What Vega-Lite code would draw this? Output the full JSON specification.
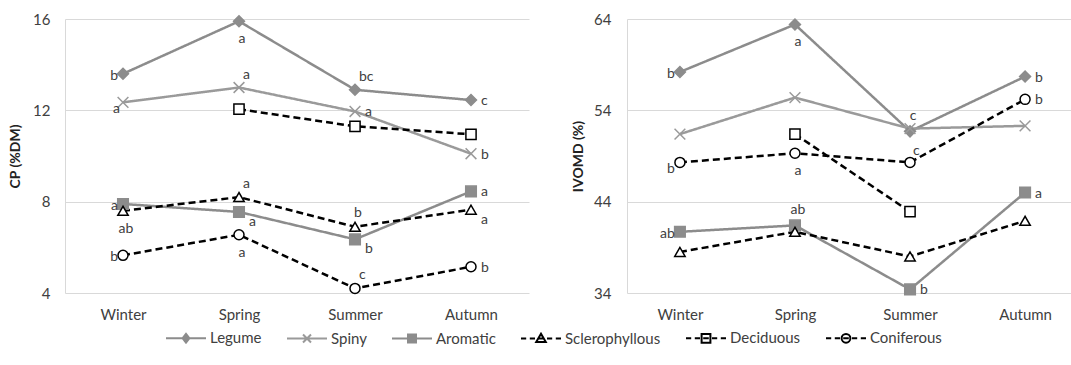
{
  "$schema": "https://vega.github.io/schema/vega-lite/v6.json",
  "background": "white",
  "padding": {"left": 8, "top": 12, "right": 0, "bottom": 5},
  "config": {
    "font": "Lato",
    "view": {"stroke": null},
    "axis": {"labelFont": "Lato", "labelFontSize": 15, "labelColor": "#404040", "titleFont": "Lato", "titleColor": "#222222", "titleFontSize": 14, "titleFontWeight": "bold", "gridColor": "#d9d9d9", "domainColor": "#d9d9d9", "ticks": false},
    "text": {"font": "Lato", "fontSize": 14, "color": "#404040"}
  },
  "data": {"values": [
    {"panel": "CP", "group": "Legume", "season": "Winter", "value": 13.6, "label": "b", "pos": "l"},
    {"panel": "CP", "group": "Legume", "season": "Spring", "value": 15.9, "label": "a", "pos": "b"},
    {"panel": "CP", "group": "Legume", "season": "Summer", "value": 12.9, "label": "bc", "pos": "tr"},
    {"panel": "CP", "group": "Legume", "season": "Autumn", "value": 12.45, "label": "c", "pos": "r"},
    {"panel": "CP", "group": "Spiny", "season": "Winter", "value": 12.35, "label": "a", "pos": "bl"},
    {"panel": "CP", "group": "Spiny", "season": "Spring", "value": 13.0, "label": "a", "pos": "tr"},
    {"panel": "CP", "group": "Spiny", "season": "Summer", "value": 11.95, "label": "a", "pos": "r"},
    {"panel": "CP", "group": "Spiny", "season": "Autumn", "value": 10.1, "label": "b", "pos": "r"},
    {"panel": "CP", "group": "Aromatic", "season": "Winter", "value": 7.9, "label": "a", "pos": "l"},
    {"panel": "CP", "group": "Aromatic", "season": "Spring", "value": 7.55, "label": "a", "pos": "br"},
    {"panel": "CP", "group": "Aromatic", "season": "Summer", "value": 6.35, "label": "b", "pos": "br"},
    {"panel": "CP", "group": "Aromatic", "season": "Autumn", "value": 8.45, "label": "a", "pos": "r"},
    {"panel": "CP", "group": "Sclerophyllous", "season": "Winter", "value": 7.6, "label": "ab", "pos": "b"},
    {"panel": "CP", "group": "Sclerophyllous", "season": "Spring", "value": 8.2, "label": "a", "pos": "tr"},
    {"panel": "CP", "group": "Sclerophyllous", "season": "Summer", "value": 6.9, "label": "b", "pos": "t"},
    {"panel": "CP", "group": "Sclerophyllous", "season": "Autumn", "value": 7.65, "label": "a", "pos": "br"},
    {"panel": "CP", "group": "Deciduous", "season": "Spring", "value": 12.05, "label": "", "pos": ""},
    {"panel": "CP", "group": "Deciduous", "season": "Summer", "value": 11.3, "label": "", "pos": ""},
    {"panel": "CP", "group": "Deciduous", "season": "Autumn", "value": 10.95, "label": "", "pos": ""},
    {"panel": "CP", "group": "Coniferous", "season": "Winter", "value": 5.65, "label": "b", "pos": "l"},
    {"panel": "CP", "group": "Coniferous", "season": "Spring", "value": 6.55, "label": "a", "pos": "b"},
    {"panel": "CP", "group": "Coniferous", "season": "Summer", "value": 4.2, "label": "c", "pos": "tr"},
    {"panel": "CP", "group": "Coniferous", "season": "Autumn", "value": 5.15, "label": "b", "pos": "r"},
    {"panel": "IVOMD", "group": "Legume", "season": "Winter", "value": 58.2, "label": "b", "pos": "l"},
    {"panel": "IVOMD", "group": "Legume", "season": "Spring", "value": 63.4, "label": "a", "pos": "b"},
    {"panel": "IVOMD", "group": "Legume", "season": "Summer", "value": 51.7, "label": "c", "pos": "t"},
    {"panel": "IVOMD", "group": "Legume", "season": "Autumn", "value": 57.7, "label": "b", "pos": "r"},
    {"panel": "IVOMD", "group": "Spiny", "season": "Winter", "value": 51.4, "label": "", "pos": ""},
    {"panel": "IVOMD", "group": "Spiny", "season": "Spring", "value": 55.4, "label": "", "pos": ""},
    {"panel": "IVOMD", "group": "Spiny", "season": "Summer", "value": 52.0, "label": "", "pos": ""},
    {"panel": "IVOMD", "group": "Spiny", "season": "Autumn", "value": 52.3, "label": "", "pos": ""},
    {"panel": "IVOMD", "group": "Aromatic", "season": "Winter", "value": 40.7, "label": "ab", "pos": "l"},
    {"panel": "IVOMD", "group": "Aromatic", "season": "Spring", "value": 41.4, "label": "ab", "pos": "t"},
    {"panel": "IVOMD", "group": "Aromatic", "season": "Summer", "value": 34.4, "label": "b", "pos": "r"},
    {"panel": "IVOMD", "group": "Aromatic", "season": "Autumn", "value": 45.0, "label": "a", "pos": "r"},
    {"panel": "IVOMD", "group": "Sclerophyllous", "season": "Winter", "value": 38.5, "label": "", "pos": ""},
    {"panel": "IVOMD", "group": "Sclerophyllous", "season": "Spring", "value": 40.7, "label": "", "pos": ""},
    {"panel": "IVOMD", "group": "Sclerophyllous", "season": "Summer", "value": 38.0, "label": "", "pos": ""},
    {"panel": "IVOMD", "group": "Sclerophyllous", "season": "Autumn", "value": 41.9, "label": "", "pos": ""},
    {"panel": "IVOMD", "group": "Deciduous", "season": "Spring", "value": 51.4, "label": "", "pos": ""},
    {"panel": "IVOMD", "group": "Deciduous", "season": "Summer", "value": 42.9, "label": "", "pos": ""},
    {"panel": "IVOMD", "group": "Coniferous", "season": "Winter", "value": 48.3, "label": "b", "pos": "bl"},
    {"panel": "IVOMD", "group": "Coniferous", "season": "Spring", "value": 49.3, "label": "a", "pos": "b"},
    {"panel": "IVOMD", "group": "Coniferous", "season": "Summer", "value": 48.3, "label": "c", "pos": "tr"},
    {"panel": "IVOMD", "group": "Coniferous", "season": "Autumn", "value": 55.2, "label": "b", "pos": "r"}
  ]},
  "spacing": 42,
  "hconcat": [
    {
      "width": 464,
      "height": 274,
      "transform": [{"filter": "datum.panel === 'CP'"}],
      "encoding": {
        "x": {"field": "season", "type": "ordinal", "sort": ["Winter", "Spring", "Summer", "Autumn"], "scale": {"type": "point", "padding": 0.5}, "axis": {"title": null, "labelAngle": 0, "domain": false, "labelPadding": 14}},
        "y": {"field": "value", "type": "quantitative", "scale": {"domain": [4, 16], "nice": false, "zero": false}, "axis": {"values": [4, 8, 12, 16], "title": "CP (%DM)", "labelPadding": 15, "titlePadding": 10}}
      },
      "layer": [
        {
          "mark": {"type": "line", "strokeWidth": 2.5},
          "encoding": {
            "color": {"field": "group", "type": "nominal",
              "scale": {"domain": ["Legume", "Spiny", "Aromatic", "Sclerophyllous", "Deciduous", "Coniferous"], "range": ["#8c8c8c", "#9a9a9a", "#8c8c8c", "#000000", "#000000", "#000000"]},
              "legend": {
                "title": null, "orient": "none", "direction": "horizontal", "legendX": 100, "legendY": 298,
                "symbolSize": 1600, "symbolStrokeWidth": 2, "labelFont": "Lato", "labelFontSize": 15, "labelColor": "#404040", "labelOffset": 3, "columnPadding": 21,
                "encode": {"symbols": {"update": {
                  "shape": {"signal": "datum.value === 'Legume' ? 'M-1,0L1,0M0,-0.22L0.17,0L0,0.22L-0.17,0Z' : datum.value === 'Spiny' ? 'M-1,0L1,0M-0.2,-0.2L0.2,0.2M-0.2,0.2L0.2,-0.2' : datum.value === 'Aromatic' ? 'M-1,0L1,0M-0.2,-0.2L0.2,-0.2L0.2,0.2L-0.2,0.2Z' : datum.value === 'Sclerophyllous' ? 'M-1,0L-0.74,0M-0.56,0L-0.3,0M-0.14,0L0.14,0M0.3,0L0.56,0M0.74,0L1,0M0,-0.24L0.24,0.18L-0.24,0.18Z' : datum.value === 'Deciduous' ? 'M-1,0L-0.74,0M-0.56,0L-0.3,0M-0.14,0L0.14,0M0.3,0L0.56,0M0.74,0L1,0M-0.22,-0.22L0.22,-0.22L0.22,0.22L-0.22,0.22Z' : 'M-1,0L-0.74,0M-0.56,0L-0.3,0M-0.14,0L0.14,0M0.3,0L0.56,0M0.74,0L1,0M-0.22,0A0.22,0.22 0 1,0 0.22,0A0.22,0.22 0 1,0 -0.22,0Z'"},
                  "fill": {"signal": "datum.value === 'Legume' || datum.value === 'Aromatic' ? '#8c8c8c' : datum.value === 'Spiny' ? 'transparent' : '#ffffff'"},
                  "stroke": {"signal": "datum.value === 'Legume' || datum.value === 'Spiny' || datum.value === 'Aromatic' ? '#8c8c8c' : '#000000'"},
                  "strokeWidth": {"value": 2},
                  "opacity": {"value": 1}
                }}}
              }},
            "strokeDash": {"field": "group", "type": "nominal", "scale": {"domain": ["Coniferous", "Deciduous", "Sclerophyllous", "Aromatic", "Spiny", "Legume"], "range": [[7, 4], [7, 4], [7, 4], [1, 0], [1, 0], [1, 0]]}, "legend": null}
          }
        },
        {
          "mark": {"type": "point", "filled": false, "strokeWidth": 1.5, "opacity": 1},
          "encoding": {
            "shape": {"field": "group", "type": "nominal", "scale": {"domain": ["Coniferous", "Deciduous", "Sclerophyllous", "Aromatic", "Spiny", "Legume"], "range": ["circle", "square", "triangle-up", "square", "M-1,-1L1,1M-1,1L1,-1", "diamond"]}, "legend": null},
            "size": {"field": "group", "type": "nominal", "scale": {"domain": ["Coniferous", "Deciduous", "Sclerophyllous", "Aromatic", "Spiny", "Legume"], "range": [100, 120, 90, 80, 70, 55]}, "legend": null},
            "fill": {"field": "group", "type": "nominal", "scale": {"domain": ["Coniferous", "Deciduous", "Sclerophyllous", "Aromatic", "Spiny", "Legume"], "range": ["#ffffff", "#ffffff", "#ffffff", "#8c8c8c", "transparent", "#8c8c8c"]}, "legend": null},
            "stroke": {"field": "group", "type": "nominal", "scale": {"domain": ["Coniferous", "Deciduous", "Sclerophyllous", "Aromatic", "Spiny", "Legume"], "range": ["#000000", "#000000", "#000000", "#8c8c8c", "#9a9a9a", "#8c8c8c"]}, "legend": null}
          }
        },
        {"transform": [{"filter": "datum.pos === 'l'"}], "mark": {"type": "text", "align": "right", "baseline": "middle", "dx": -5, "dy": 2}, "encoding": {"text": {"field": "label"}}},
        {"transform": [{"filter": "datum.pos === 'r'"}], "mark": {"type": "text", "align": "left", "baseline": "middle", "dx": 10, "dy": 1}, "encoding": {"text": {"field": "label"}}},
        {"transform": [{"filter": "datum.pos === 't'"}], "mark": {"type": "text", "align": "center", "baseline": "middle", "dx": 3, "dy": -14}, "encoding": {"text": {"field": "label"}}},
        {"transform": [{"filter": "datum.pos === 'b'"}], "mark": {"type": "text", "align": "center", "baseline": "middle", "dx": 3, "dy": 18}, "encoding": {"text": {"field": "label"}}},
        {"transform": [{"filter": "datum.pos === 'tr'"}], "mark": {"type": "text", "align": "left", "baseline": "middle", "dx": 4, "dy": -13}, "encoding": {"text": {"field": "label"}}},
        {"transform": [{"filter": "datum.pos === 'br'"}], "mark": {"type": "text", "align": "left", "baseline": "middle", "dx": 10, "dy": 10}, "encoding": {"text": {"field": "label"}}},
        {"transform": [{"filter": "datum.pos === 'bl'"}], "mark": {"type": "text", "align": "right", "baseline": "middle", "dx": -3, "dy": 7}, "encoding": {"text": {"field": "label"}}}
      ]
    },
    {
      "width": 451,
      "height": 274,
      "transform": [{"filter": "datum.panel === 'IVOMD'"}],
      "encoding": {
        "x": {"field": "season", "type": "ordinal", "sort": ["Winter", "Spring", "Summer", "Autumn"], "scale": {"type": "point", "padding": 0.46}, "axis": {"title": null, "labelAngle": 0, "domain": false, "labelPadding": 14}},
        "y": {"field": "value", "type": "quantitative", "scale": {"domain": [34, 64], "nice": false, "zero": false}, "axis": {"values": [34, 44, 54, 64], "title": "IVOMD (%)", "labelPadding": 16, "titlePadding": 8}}
      },
      "layer": [
        {
          "mark": {"type": "line", "strokeWidth": 2.5},
          "encoding": {
            "color": {"field": "group", "type": "nominal", "scale": {"domain": ["Legume", "Spiny", "Aromatic", "Sclerophyllous", "Deciduous", "Coniferous"], "range": ["#8c8c8c", "#9a9a9a", "#8c8c8c", "#000000", "#000000", "#000000"]}, "legend": null},
            "strokeDash": {"field": "group", "type": "nominal", "scale": {"domain": ["Coniferous", "Deciduous", "Sclerophyllous", "Aromatic", "Spiny", "Legume"], "range": [[7, 4], [7, 4], [7, 4], [1, 0], [1, 0], [1, 0]]}, "legend": null}
          }
        },
        {
          "mark": {"type": "point", "filled": false, "strokeWidth": 1.5, "opacity": 1},
          "encoding": {
            "shape": {"field": "group", "type": "nominal", "scale": {"domain": ["Coniferous", "Deciduous", "Sclerophyllous", "Aromatic", "Spiny", "Legume"], "range": ["circle", "square", "triangle-up", "square", "M-1,-1L1,1M-1,1L1,-1", "diamond"]}, "legend": null},
            "size": {"field": "group", "type": "nominal", "scale": {"domain": ["Coniferous", "Deciduous", "Sclerophyllous", "Aromatic", "Spiny", "Legume"], "range": [100, 120, 90, 80, 70, 55]}, "legend": null},
            "fill": {"field": "group", "type": "nominal", "scale": {"domain": ["Coniferous", "Deciduous", "Sclerophyllous", "Aromatic", "Spiny", "Legume"], "range": ["#ffffff", "#ffffff", "#ffffff", "#8c8c8c", "transparent", "#8c8c8c"]}, "legend": null},
            "stroke": {"field": "group", "type": "nominal", "scale": {"domain": ["Coniferous", "Deciduous", "Sclerophyllous", "Aromatic", "Spiny", "Legume"], "range": ["#000000", "#000000", "#000000", "#8c8c8c", "#9a9a9a", "#8c8c8c"]}, "legend": null}
          }
        },
        {"transform": [{"filter": "datum.pos === 'l'"}], "mark": {"type": "text", "align": "right", "baseline": "middle", "dx": -5, "dy": 2}, "encoding": {"text": {"field": "label"}}},
        {"transform": [{"filter": "datum.pos === 'r'"}], "mark": {"type": "text", "align": "left", "baseline": "middle", "dx": 10, "dy": 1}, "encoding": {"text": {"field": "label"}}},
        {"transform": [{"filter": "datum.pos === 't'"}], "mark": {"type": "text", "align": "center", "baseline": "middle", "dx": 3, "dy": -15}, "encoding": {"text": {"field": "label"}}},
        {"transform": [{"filter": "datum.pos === 'b'"}], "mark": {"type": "text", "align": "center", "baseline": "middle", "dx": 3, "dy": 18}, "encoding": {"text": {"field": "label"}}},
        {"transform": [{"filter": "datum.pos === 'tr'"}], "mark": {"type": "text", "align": "left", "baseline": "middle", "dx": 3, "dy": -11}, "encoding": {"text": {"field": "label"}}},
        {"transform": [{"filter": "datum.pos === 'br'"}], "mark": {"type": "text", "align": "left", "baseline": "middle", "dx": 10, "dy": 10}, "encoding": {"text": {"field": "label"}}},
        {"transform": [{"filter": "datum.pos === 'bl'"}], "mark": {"type": "text", "align": "right", "baseline": "middle", "dx": -5, "dy": 7}, "encoding": {"text": {"field": "label"}}}
      ]
    }
  ]
}
